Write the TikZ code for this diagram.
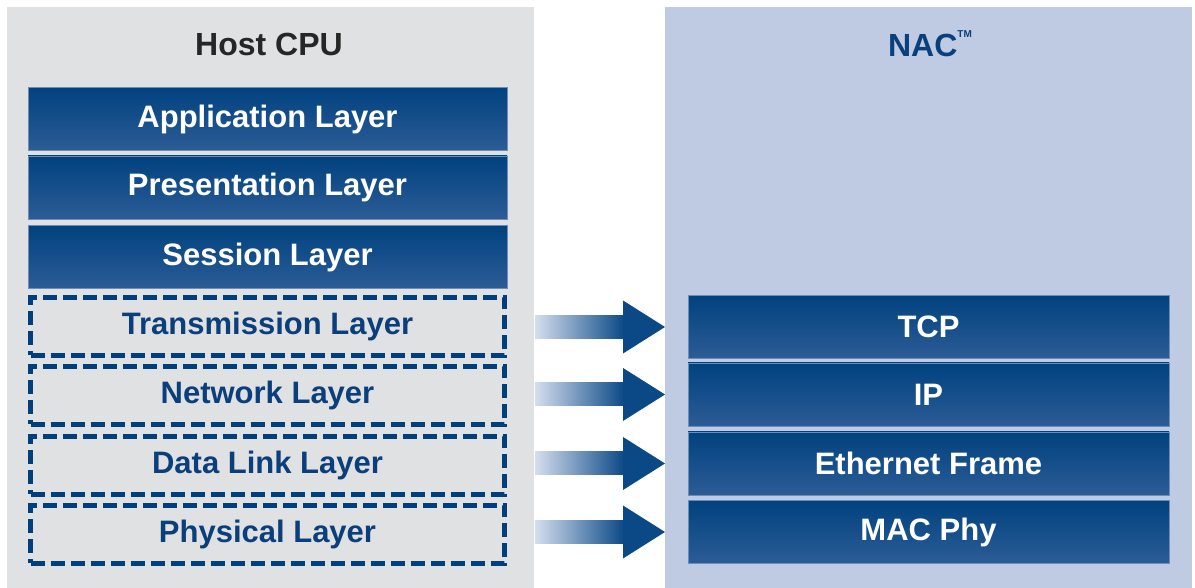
\documentclass[tikz,border=0pt]{standalone}
\usepackage{fontspec}
\setmainfont{Liberation Sans}
\usetikzlibrary{calc}
\definecolor{hostgray}{HTML}{E0E1E3}
\definecolor{nacblue}{HTML}{BFCBE2}
\definecolor{deepblue}{HTML}{00427F}
\definecolor{midblue}{HTML}{2C5C96}
\definecolor{edgeblue}{HTML}{6E8DB6}
\definecolor{dashblue}{HTML}{003F7E}
\definecolor{labelblue}{HTML}{0B3F7C}
\definecolor{shaftlight}{HTML}{D5DEEE}
\definecolor{headblue}{HTML}{0A4886}
\begin{document}
\begin{tikzpicture}[x=1pt,y=1pt,
  panel/.style={anchor=south west,inner sep=0pt,outer sep=0pt,draw=none},
  title/.style={font=\bfseries\fontsize{32}{38}\selectfont,inner sep=0pt},
  solidlayer/.style={minimum width=479pt,minimum height=63pt,inner sep=0pt,outer sep=0pt,
    top color=deepblue,bottom color=midblue,draw=edgeblue,line width=0.8pt,
    text=white,font=\bfseries\fontsize{31}{36}\selectfont},
  hostlayer/.style={minimum width=474pt,minimum height=58pt,inner sep=0pt,outer sep=2.5pt,
    fill=hostgray,draw=dashblue,line width=5pt,dash pattern=on 14pt off 6pt,
    text=labelblue,font=\bfseries\fontsize{31}{36}\selectfont},
  nacl/.style={solidlayer,minimum width=481pt},
  shaft/.style={left color=shaftlight,right color=headblue},
  head/.style={fill=headblue}]
\useasboundingbox (0,0) rectangle (1195,588);
\fill[white] (0,0) rectangle (1195,588);

% background panels
\node[panel,fill=hostgray,minimum width=527pt,minimum height=581pt] (hostbg) at (7,0) {};
\node[panel,fill=nacblue,minimum width=527pt,minimum height=581pt] (nacbg) at (665,0) {};

\node[title,text=black!85] (hosttitle) at (269,544) {Host CPU};
\node[title,text=labelblue] (nactitle) at (930,544) {NAC\raisebox{0.6em}{\fontsize{10}{12}\selectfont TM}};

% host protocol stack
\node[solidlayer] (app)  at (267.5,469)   {Application Layer};
\node[solidlayer] (pres) at (267.5,400.5) {Presentation Layer};
\node[solidlayer] (sess) at (267.5,331)   {Session Layer};
\node[hostlayer]  (lt)   at (267.5,261.5) {Transmission Layer};
\node[hostlayer]  (ln)   at (267.5,192.5) {Network Layer};
\node[hostlayer]  (ld)   at (267.5,122.5) {Data Link Layer};
\node[hostlayer]  (lp)   at (267.5,53.5)  {Physical Layer};

% offload engine stack
\node[nacl] (rt) at (928.5,261)   {TCP};
\node[nacl] (ri) at (928.5,193.5) {IP};
\node[nacl] (re) at (928.5,124.5) {Ethernet Frame};
\node[nacl] (rm) at (928.5,56)    {MAC Phy};

% block arrows from each host layer to its offloaded counterpart
\foreach \src/\dst in {lt/rt,ln/ri,ld/re,lp/rm}{
  \coordinate (s) at (hostbg.east |- \dst.west);
  \coordinate (t) at (nacbg.west |- \dst.west);
  \shade[shaft] ($(s)+(1,-11.5)$) rectangle ($(t)+(-40,11.5)$);
  \fill[head] ($(t)+(-42,26.5)$) -- (t) -- ($(t)+(-42,-26.5)$) -- cycle;
}
\end{tikzpicture}
\end{document}
